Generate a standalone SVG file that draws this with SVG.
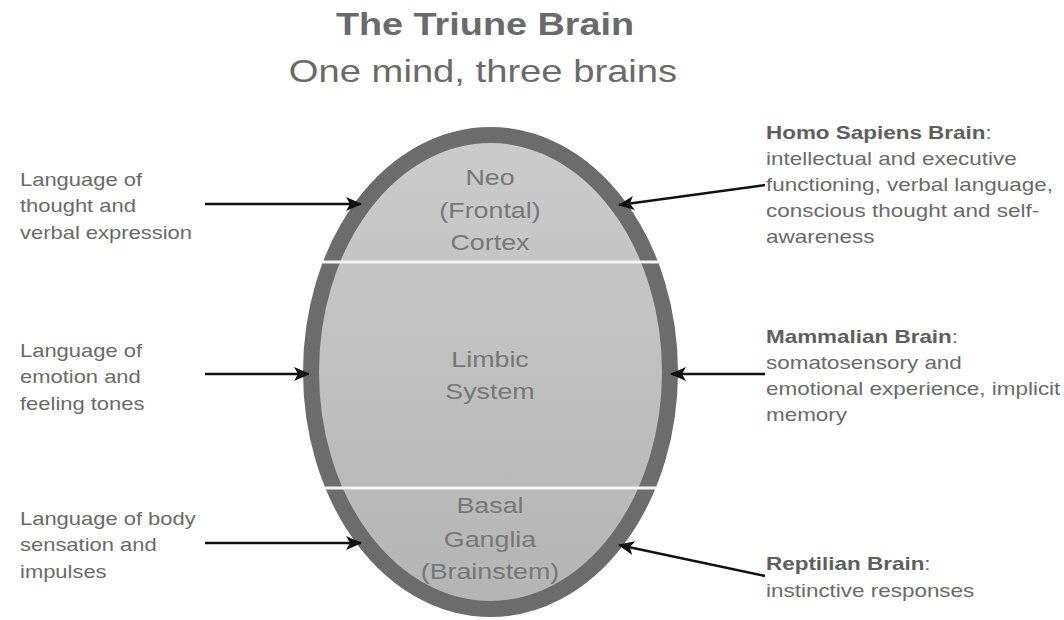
<svg xmlns="http://www.w3.org/2000/svg" width="1064" height="620" viewBox="0 0 1064 620">
<defs>
<linearGradient id="fillg" x1="0" y1="0" x2="0" y2="1">
<stop offset="0" stop-color="#cbcbcb"/>
<stop offset="1" stop-color="#b4b4b4"/>
</linearGradient>
<marker id="ah" markerWidth="16" markerHeight="14" refX="15" refY="7" orient="auto" markerUnits="userSpaceOnUse">
<path d="M0,0 L16,7 L0,14 L4,7 Z" fill="#111"/>
</marker>
<style>
.t{font-family:"Liberation Sans",Arial,Helvetica,sans-serif;fill:#6a6a6a}
.lab{font-size:18px}
.rl{font-size:18.4px}
.in{font-size:22px;fill:#777;text-anchor:middle}
.b{font-weight:bold}
.conn{stroke:#111;stroke-width:2.5;fill:none;marker-end:url(#ah)}
</style>
</defs>
<rect width="1064" height="620" fill="#fff"/>
<g id="title">
<text class="t b" font-size="31" text-anchor="middle" fill="#5a5a5a" transform="translate(485,35) scale(1.22,1)">The Triune Brain</text>
<text class="t" font-size="31.3" text-anchor="middle" fill="#5a5a5a" transform="translate(483,82) scale(1.22,1)">One mind, three brains</text>
</g>
<g id="brain">
<ellipse cx="490.5" cy="372" rx="179.5" ry="237" fill="url(#fillg)" stroke="#6c6c6c" stroke-width="16"/>
<line x1="323" y1="262" x2="658" y2="262" stroke="#f4f4f4" stroke-width="3"/>
<line x1="325" y1="488" x2="656" y2="488" stroke="#f4f4f4" stroke-width="3"/>
</g>
<g id="neocortex">
<text class="t in" transform="translate(490,185) scale(1.22,1)"><tspan x="0" y="0">Neo</tspan><tspan x="0" y="33">(Frontal)</tspan><tspan x="0" y="65">Cortex</tspan></text>
</g>
<g id="limbic">
<text class="t in" transform="translate(490,367) scale(1.22,1)"><tspan x="0" y="0">Limbic</tspan><tspan x="0" y="32">System</tspan></text>
</g>
<g id="basal">
<text class="t in" transform="translate(490,513) scale(1.22,1)"><tspan x="0" y="0">Basal</tspan><tspan x="0" y="34">Ganglia</tspan><tspan x="0" y="66">(Brainstem)</tspan></text>
</g>
<g id="left-thought">
<text class="t lab" transform="translate(20,186) scale(1.22,1)"><tspan x="0" y="0">Language of</tspan><tspan x="0" y="26.5">thought and</tspan><tspan x="0" y="53">verbal expression</tspan></text>
</g>
<g id="left-emotion">
<text class="t lab" transform="translate(20,357) scale(1.22,1)"><tspan x="0" y="0">Language of</tspan><tspan x="0" y="26.5">emotion and</tspan><tspan x="0" y="53">feeling tones</tspan></text>
</g>
<g id="left-body">
<text class="t lab" transform="translate(20,525) scale(1.22,1)"><tspan x="0" y="0">Language of body</tspan><tspan x="0" y="26.5">sensation and</tspan><tspan x="0" y="53">impulses</tspan></text>
</g>
<g id="right-homo">
<text class="t rl" transform="translate(766,139) scale(1.22,1)"><tspan x="0" y="0" class="b" fill="#5e5e5e">Homo Sapiens Brain</tspan><tspan>:</tspan><tspan x="0" y="26">intellectual and executive</tspan><tspan x="0" y="52">functioning, verbal language,</tspan><tspan x="0" y="78">conscious thought and self-</tspan><tspan x="0" y="104">awareness</tspan></text>
</g>
<g id="right-mammal">
<text class="t rl" transform="translate(766,343) scale(1.22,1)"><tspan x="0" y="0" class="b" fill="#5e5e5e">Mammalian Brain</tspan><tspan>:</tspan><tspan x="0" y="26">somatosensory and</tspan><tspan x="0" y="52">emotional experience, implicit</tspan><tspan x="0" y="78">memory</tspan></text>
</g>
<g id="right-reptile">
<text class="t rl" transform="translate(766,570) scale(1.22,1)"><tspan x="0" y="0" class="b" fill="#5e5e5e">Reptilian Brain</tspan><tspan>:</tspan><tspan x="0" y="27">instinctive responses</tspan></text>
</g>
<g id="connectors">
<line class="conn" x1="205" y1="204" x2="361" y2="204"/>
<line class="conn" x1="205" y1="374" x2="309" y2="374"/>
<line class="conn" x1="205" y1="543" x2="361" y2="543"/>
<line class="conn" x1="765" y1="185" x2="619" y2="205"/>
<line class="conn" x1="765" y1="374" x2="671" y2="374"/>
<line class="conn" x1="765" y1="576" x2="619" y2="545"/>
</g>
</svg>
